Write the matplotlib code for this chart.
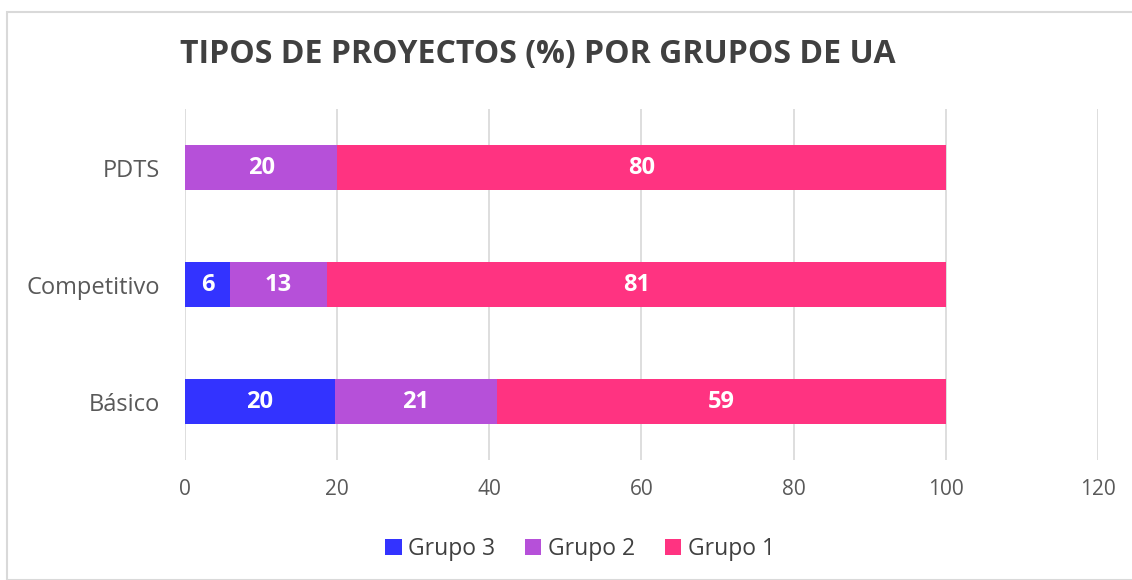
import matplotlib.pyplot as plt
from matplotlib.patches import Rectangle

plt.rcParams['font.family'] = ['Open Sans', 'DejaVu Sans']

categories = ['Básico', 'Competitivo', 'PDTS']
grupo3 = [19.7, 5.9, 0]
grupo2 = [21.3, 12.8, 20.0]
grupo1 = [59.0, 81.3, 80.0]

series = [('Grupo 3', grupo3, '#3333FF'),
          ('Grupo 2', grupo2, '#B650D9'),
          ('Grupo 1', grupo1, '#FF3381')]

fig = plt.figure(figsize=(11.32, 5.8), dpi=100)
ax = fig.add_axes([0.1634, 0.2069, 0.8065, 0.605])

# light frame around the chart
fig.patches.append(Rectangle((7 / 1132, 0), 1.1, 1 - 12 / 580, transform=fig.transFigure,
                             fill=False, edgecolor='#D9D9D9', linewidth=1.5))

left = [0, 0, 0]
for name, vals, color in series:
    bars = ax.barh(categories, vals, left=left, height=0.39, color=color, label=name, zorder=2)
    for b, v in zip(bars, vals):
        if v > 0:
            ax.text(b.get_x() + b.get_width() / 2, b.get_y() + b.get_height() / 2, f'{v:.0f}',
                    ha='center', va='center', color='white', fontsize=17, fontweight='bold', zorder=4)
    left = [l + v for l, v in zip(left, vals)]

ax.set_xlim(0, 120)
ax.set_ylim(-0.5, 2.5)
ax.set_xticks(range(0, 121, 20))
ax.grid(axis='x', color='#BFBFBF', alpha=0.6, linewidth=1.2, zorder=3)
ax.grid(axis='y', visible=False)
for s in ax.spines.values():
    s.set_visible(False)
ax.tick_params(axis='both', length=0, colors='#595959')
ax.tick_params(axis='y', pad=18, labelsize=17)
ax.tick_params(axis='x', pad=14, labelsize=15)

fig.text(180 / 1132, 1 - 55 / 580, 'TIPOS DE PROYECTOS (%) POR GRUPOS DE UA', fontsize=23,
         fontweight='bold', color='#404040', ha='left', va='center')

ax.legend(loc='center', bbox_to_anchor=(0.433, -0.255), ncol=3, frameon=False, fontsize=16.5,
          handlelength=0.7, handleheight=0.7, handletextpad=0.3, columnspacing=1.3,
          labelcolor='#404040')

fig.savefig('out.png', dpi=100)
